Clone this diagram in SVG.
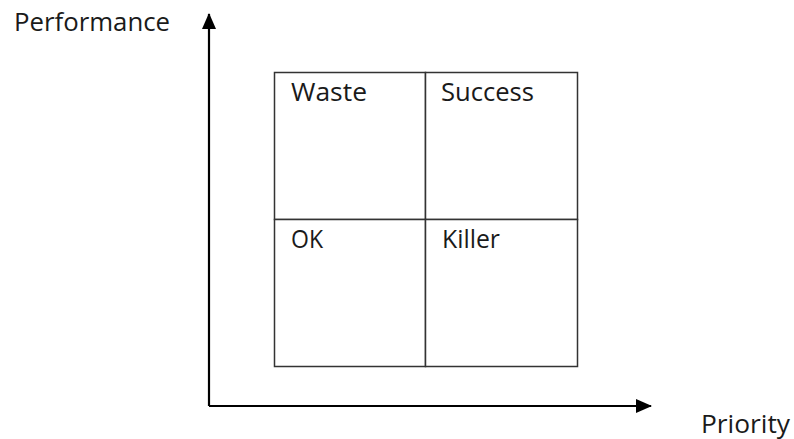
<svg xmlns="http://www.w3.org/2000/svg" width="794" height="439" viewBox="0 0 794 439">
<style>
text{font-family:"Open Sans","Liberation Sans",sans-serif;font-size:25px;fill:#1a1a1a}
.cell{fill:#fff;stroke:#333;stroke-width:1.5}
.axis{stroke:#000;stroke-width:2.2;fill:none}
</style>
<defs>
<marker id="ah" markerWidth="16" markerHeight="14" refX="15" refY="7" orient="auto" markerUnits="userSpaceOnUse">
<path d="M0,0 L16,7 L0,14 Z" fill="#000"/>
</marker>
</defs>
<rect width="794" height="439" fill="#fff"/>
<g id="connectors">
<path class="axis" d="M209,406 L209,14" marker-end="url(#ah)"/>
<path class="axis" d="M209,406 L651,406" marker-end="url(#ah)"/>
</g>
<g id="waste"><rect class="cell" x="274.5" y="72.5" width="151" height="147"/><text x="291" y="101" textLength="76" lengthAdjust="spacingAndGlyphs">Waste</text></g>
<g id="success"><rect class="cell" x="425.5" y="72.5" width="152" height="147"/><text x="441" y="101" textLength="93" lengthAdjust="spacingAndGlyphs">Success</text></g>
<g id="ok"><rect class="cell" x="274.5" y="219.5" width="151" height="147"/><text x="291" y="248" textLength="32" lengthAdjust="spacingAndGlyphs">OK</text></g>
<g id="killer"><rect class="cell" x="425.5" y="219.5" width="152" height="147"/><text x="442" y="248" textLength="58" lengthAdjust="spacingAndGlyphs">Killer</text></g>
<g id="performance"><text x="14" y="31" textLength="156" lengthAdjust="spacingAndGlyphs">Performance</text></g>
<g id="priority"><text x="701" y="433" textLength="89" lengthAdjust="spacingAndGlyphs">Priority</text></g>
</svg>
